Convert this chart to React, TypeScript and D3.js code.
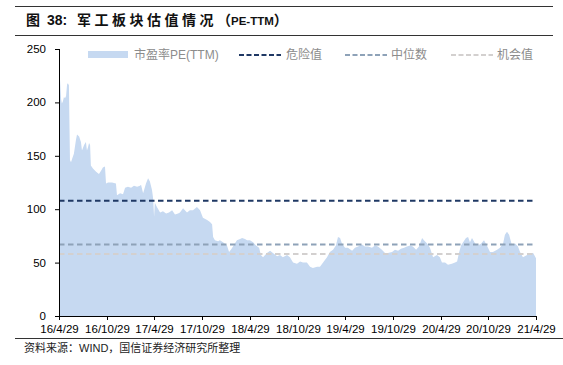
import React from "react";
import * as d3 from "d3";

const dates: string[] = [
"2016-04-29","2016-05-03","2016-05-07","2016-05-10","2016-05-14","2016-05-18","2016-05-22","2016-05-26","2016-05-30","2016-06-02","2016-06-06","2016-06-10","2016-06-14","2016-06-18","2016-06-25","2016-07-03","2016-07-07","2016-07-15","2016-07-22","2016-07-26","2016-08-03","2016-08-10","2016-08-14","2016-08-18","2016-08-22","2016-08-26","2016-08-29","2016-09-06","2016-09-18","2016-09-29","2016-10-07","2016-10-14","2016-10-22","2016-10-26","2016-11-03","2016-11-18","2016-12-03","2016-12-07","2016-12-19","2016-12-30",
"2017-01-07","2017-01-18","2017-01-30","2017-02-10","2017-02-22","2017-03-05","2017-03-09","2017-03-17","2017-03-28","2017-04-05","2017-04-12","2017-04-20","2017-04-24","2017-04-28","2017-05-01","2017-05-09","2017-05-21","2017-06-01","2017-06-13","2017-06-24","2017-07-06","2017-07-17","2017-07-29","2017-08-05","2017-08-17","2017-09-01","2017-09-12","2017-09-24","2017-10-09","2017-10-21","2017-11-01","2017-11-17","2017-11-28","2017-12-06","2017-12-10","2017-12-17","2017-12-29",
"2018-01-05","2018-01-17","2018-02-01","2018-02-09","2018-02-16","2018-02-24","2018-03-11","2018-03-23","2018-03-31","2018-04-11","2018-04-19","2018-04-30","2018-05-12","2018-05-23","2018-06-04","2018-06-11","2018-06-19","2018-06-27","2018-07-04","2018-07-16","2018-07-27","2018-08-12","2018-08-23","2018-09-03","2018-09-19","2018-09-30","2018-10-12","2018-10-27","2018-11-08","2018-11-19","2018-12-04","2018-12-16","2018-12-27",
"2019-01-12","2019-01-23","2019-02-04","2019-02-19","2019-03-02","2019-03-14","2019-03-25","2019-04-02","2019-04-10","2019-04-17","2019-04-29","2019-05-10","2019-05-26","2019-06-06","2019-06-18","2019-07-03","2019-07-14","2019-07-26","2019-08-10","2019-08-22","2019-09-02","2019-09-17","2019-09-29","2019-10-10","2019-10-26","2019-11-06","2019-11-18","2019-11-29","2019-12-11","2019-12-22",
"2020-01-03","2020-01-14","2020-01-26","2020-02-06","2020-02-18","2020-02-25","2020-03-08","2020-03-19","2020-03-31","2020-04-15","2020-04-26","2020-05-04","2020-05-16","2020-05-27","2020-06-11","2020-06-23","2020-07-01","2020-07-08","2020-07-16","2020-07-24","2020-08-04","2020-08-12","2020-08-19","2020-08-27","2020-09-08","2020-09-19","2020-10-01","2020-10-12","2020-10-23","2020-11-04","2020-11-15","2020-12-01","2020-12-12","2020-12-24","2020-12-31",
"2021-01-08","2021-01-16","2021-01-27","2021-02-08","2021-02-19","2021-02-27","2021-03-10","2021-03-26","2021-04-06","2021-04-18","2021-04-29"
];

const peValues: number[] = [
215,221,203,199,201,205,204,206,217,218,216,146,144,147,152,165,170,168,163,155,160,163,155,158,162,160,141,138,135,133,136,139,140,124,125,125,124,113,115,114,
120,121,120,122,121,122,123,115,124,129,126,118,111,93,106,102,97,98,96,97,99,95,96,97,101,97,99,99,102,99,92,90,88,86,74,71,70,
71,69,66,60,62,65,71,72,73,72,71,71,69,66,64,57,55,57,59,61,59,56,57,55,57,55,50,49,51,50,50,46,45,
46,46,50,55,60,62,66,74,73,68,64,64,61,64,65,67,65,65,64,66,65,62,59,59,60,62,61,63,64,65,
66,65,62,65,73,71,68,64,55,57,55,50,50,48,49,50,51,59,66,69,73,74,69,73,68,66,68,71,66,60,60,62,64,68,76,
79,76,66,68,65,60,55,57,59,59,54
];

const dangerValue = 108;
const medianValue = 67;
const chanceValue = 58;

const yTicks: number[] = [0, 50, 100, 150, 200, 250];
const xTickDates: string[] = ["2016-04-29","2016-10-29","2017-04-29","2017-10-29","2018-04-29","2018-10-29","2019-04-29","2019-10-29","2020-04-29","2020-10-29","2021-04-29"];
const xTickLabels: string[] = ["16/4/29","16/10/29","17/4/29","17/10/29","18/4/29","18/10/29","19/4/29","19/10/29","20/4/29","20/10/29","21/4/29"];

const legendLabels: string[] = ["市盈率PE(TTM)", "危险值", "中位数", "机会值"];

const W = 563, H = 365;
const L = 59, R = 536, T = 49, B = 316;
const latin = "'Liberation Sans', Arial, 'Noto Sans CJK SC', sans-serif";
const cjk = "'Noto Sans CJK SC', 'Liberation Sans', sans-serif";

const areaColor = "#c6d9f1";
const dangerColor = "#1f3864";
const medianColor = "#8ea2b8";
const chanceColor = "#d3d0cf";

export default function App() {
  const parse = d3.timeParse("%Y-%m-%d");
  const data = dates.map((d, i) => ({ date: parse(d) as Date, v: peValues[i] }));
  const x = d3.scaleTime()
    .domain([parse("2016-04-29") as Date, parse("2021-04-29") as Date])
    .range([L, R]);
  const y = d3.scaleLinear().domain([0, 250]).range([B, T]);
  const area = d3.area<{ date: Date; v: number }>()
    .x(d => x(d.date))
    .y0(y(0))
    .y1(d => y(d.v));

  const refLines = [
    { v: dangerValue, c: dangerColor },
    { v: medianValue, c: medianColor },
    { v: chanceValue, c: chanceColor },
  ];

  const legendItems = [
    { sx: 239, tx: 286, c: dangerColor, label: legendLabels[1] },
    { sx: 345, tx: 391, c: medianColor, label: legendLabels[2] },
    { sx: 451, tx: 497, c: chanceColor, label: legendLabels[3] },
  ];

  return (
    <svg width={W} height={H} style={{ position: "absolute", left: 0, top: 0, background: "#fff" }}>
      <line x1={15} x2={553} y1={6.5} y2={6.5} stroke="#333" strokeWidth={1} />
      <g fontWeight="bold" fill="#111" fontSize={14}>
        <text x={26} y={25} fontFamily={cjk}>图</text>
        <text x={47} y={25} fontFamily={latin}>38:</text>
        <text x={77} y={25} fontFamily={cjk} letterSpacing={3.5}>军工板块估值情况</text>
        <text x={217} y={25} fontFamily={cjk}>（<tspan fontFamily={latin} fontSize={11.5}>PE-TTM</tspan>）</text>
      </g>
      <line x1={15} x2={553} y1={35.5} y2={35.5} stroke="#333" strokeWidth={1} />

      <path d={area(data) || ""} fill={areaColor} />

      {refLines.map((r, i) => (
        <line key={i} x1={L} x2={R} y1={y(r.v)} y2={y(r.v)} stroke={r.c} strokeWidth={2} strokeDasharray="5.5,3.5" />
      ))}

      {/* y axis */}
      <line x1={L + 0.5} x2={L + 0.5} y1={T} y2={B} stroke="#000" strokeWidth={1} />
      {yTicks.map(t => (
        <g key={t}>
          <line x1={L - 4} x2={L} y1={y(t) + 0.5} y2={y(t) + 0.5} stroke="#000" />
          <text x={L - 13} y={y(t) + 4} textAnchor="end" fontFamily={latin} fontSize={11.5} fill="#000">{t}</text>
        </g>
      ))}
      {/* x axis */}
      <line x1={L} x2={R + 1} y1={B + 0.5} y2={B + 0.5} stroke="#000" strokeWidth={1} />
      {xTickDates.map((d, i) => {
        const px = Math.round(x(parse(d) as Date)) + 0.5;
        return (
          <g key={d}>
            <line x1={px} x2={px} y1={B} y2={B + 4} stroke="#000" />
            <text x={px} y={333} textAnchor="middle" fontFamily={latin} fontSize={11.5} fill="#000">{xTickLabels[i]}</text>
          </g>
        );
      })}

      {/* legend */}
      <rect x={88} y={51} width={40} height={7} fill={areaColor} />
      <text x={134} y={59} fontFamily={latin} fontSize={12} fill="#8c8c8c">{legendLabels[0]}</text>
      {legendItems.map((l, i) => (
        <g key={i}>
          <line x1={l.sx} x2={l.sx + 42} y1={55} y2={55} stroke={l.c} strokeWidth={2} strokeDasharray="5,2.5" />
          <text x={l.tx} y={59} fontFamily={cjk} fontSize={12} fill="#8c8c8c">{l.label}</text>
        </g>
      ))}

      <line x1={15} x2={563} y1={338.5} y2={338.5} stroke="#333" strokeWidth={1} />
      <text x={24} y={352} fontFamily={cjk} fontSize={11} fill="#222">
        资料来源：<tspan fontFamily={latin}>WIND</tspan>，国信证券经济研究所整理
      </text>
    </svg>
  );
}
